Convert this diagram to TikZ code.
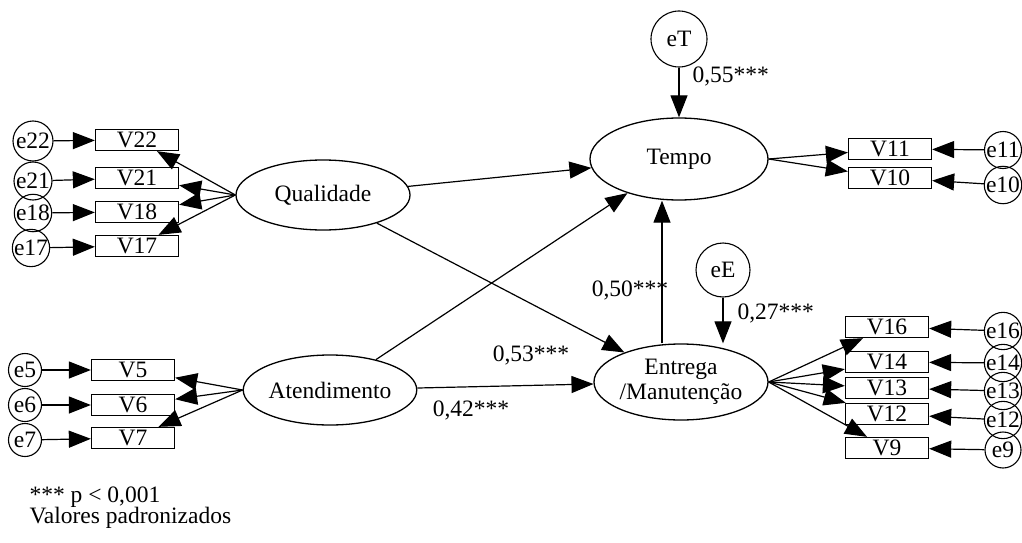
\documentclass[tikz,border=0pt]{standalone}
\usepackage{fontspec}
\setmainfont{Liberation Serif}
\usetikzlibrary{shapes.geometric,arrows.meta}

\begin{document}
\begin{tikzpicture}[x=1pt,y=-1pt,
	font=\fontsize{23.5}{25}\selectfont,
	lat/.style={ellipse, draw, line width=1.3pt, inner sep=0pt},
	ind/.style={rectangle, draw, line width=1.3pt, minimum width=83pt, minimum height=21pt, inner sep=0pt},
	err/.style={circle, draw, line width=1.1pt, inner sep=0pt},
	arr/.style={line width=1.2pt, -{Triangle[length=22pt,width=17pt]}}]
		\useasboundingbox (0,0) rectangle (1022,543);
		
		%latent nodes
		\node (Qualidade) at (323,195) [lat, minimum width=174pt, minimum height=70pt]{Qualidade};
		\node (Atendimento) at (330,390) [lat, minimum width=172pt, minimum height=70pt]{Atendimento};
		\node (Tempo) at (679,159) [lat, minimum width=178pt, minimum height=82pt]{Tempo};
		\node (Entrega) at (681,382) [lat, minimum width=174pt, minimum height=76pt, align=center]{Entrega \\ /Manutenção};
		
		\node (eT) at (679,39) [err, minimum size=56pt]{eT};
		\node (eE) at (723,270) [err, minimum size=54pt]{eE};
		
		%Qualidade's indicators
		\node (V22) at (137,140) [ind]{V22};
		\node (V21) at (137,178) [ind]{V21};
		\node (V18) at (137,212) [ind]{V18};
		\node (V17) at (137,246) [ind]{V17};
		\node (e22) at (33,141) [err, minimum size=40pt]{e22};
		\node (e21) at (33,181) [err, minimum size=38pt]{e21};
		\node (e18) at (33,213) [err, minimum size=36pt]{e18};
		\node (e17) at (31,248) [err, minimum size=34pt]{e17};
		
		%Atendimento's indicators
		\node (V5) at (133,370) [ind]{V5};
		\node (V6) at (133,405) [ind]{V6};
		\node (V7) at (133,438) [ind]{V7};
		\node (e5) at (25,370) [err, minimum size=33pt]{e5};
		\node (e6) at (25,405) [err, minimum size=33pt]{e6};
		\node (e7) at (25,440) [err, minimum size=33pt]{e7};
		
		%Tempo's indicators
		\node (V11) at (890,149) [ind]{V11};
		\node (V10) at (890,178) [ind]{V10};
		\node (e11) at (1003,150) [err, minimum size=37pt]{e11};
		\node (e10) at (1003,185) [err, minimum size=37pt]{e10};
		
		%Entrega's indicators
		\node (V16) at (887,327) [ind]{V16};
		\node (V14) at (887,362) [ind]{V14};
		\node (V13) at (887,388) [ind]{V13};
		\node (V12) at (887,414) [ind]{V12};
		\node (V9) at (887,448) [ind]{V9};
		\node (e16) at (1003,331) [err, minimum size=37pt]{e16};
		\node (e14) at (1003,363) [err, minimum size=37pt]{e14};
		\node (e13) at (1003,391) [err, minimum size=37pt]{e13};
		\node (e12) at (1003,420) [err, minimum size=37pt]{e12};
		\node (e9) at (1003,450) [err, minimum size=36pt]{e9};
		
		%coefficients
		\node (c55) at (689,76) [anchor=west]{0,55***};
		\node (c50) at (630,290) {0,50***};
		\node (c27) at (734,313) [anchor=west]{0,27***};
		\node (c53) at (531,355) {0,53***};
		\node (c42) at (471,410) {0,42***};
		
		%legend
		\node (p) at (26,497) [anchor=west]{*** p < 0,001};
		\node (pad) at (26,518) [anchor=west]{Valores padronizados};
		
		%structural links
		\draw[arr] (Qualidade) -- (Tempo);
		\draw[arr] (Qualidade) -- (Entrega);
		\draw[arr] (Atendimento) -- (Tempo);
		\draw[arr] (Atendimento) -- (Entrega);
		\draw[arr] ([xshift=-19pt]Entrega.north) -- ([xshift=-19pt]Entrega.north |- Tempo.south);
		\draw[arr] (eT) -- (Tempo);
		\draw[arr] (eE) -- (eE |- Entrega.north);
		
		%measurement links
		\foreach \v in {V22,V21,V18,V17} \draw[arr] (Qualidade.west) -- (\v);
		\foreach \v in {V5,V6,V7} \draw[arr] (Atendimento.west) -- (\v);
		\foreach \v in {V11,V10} \draw[arr] (Tempo.east) -- (\v);
		\foreach \v in {V16,V14,V13,V12,V9} \draw[arr] (Entrega.east) -- (\v);
		
		%error links
		\foreach \e/\v in {e22/V22,e21/V21,e18/V18,e17/V17,e5/V5,e6/V6,e7/V7}
			\draw[arr] (\e) -- (\v);
		\foreach \e/\v in {e11/V11,e10/V10,e16/V16,e14/V14,e13/V13,e12/V12,e9/V9}
			\draw[arr] (\e) -- (\v);
		
		\end{tikzpicture}
\end{document}
